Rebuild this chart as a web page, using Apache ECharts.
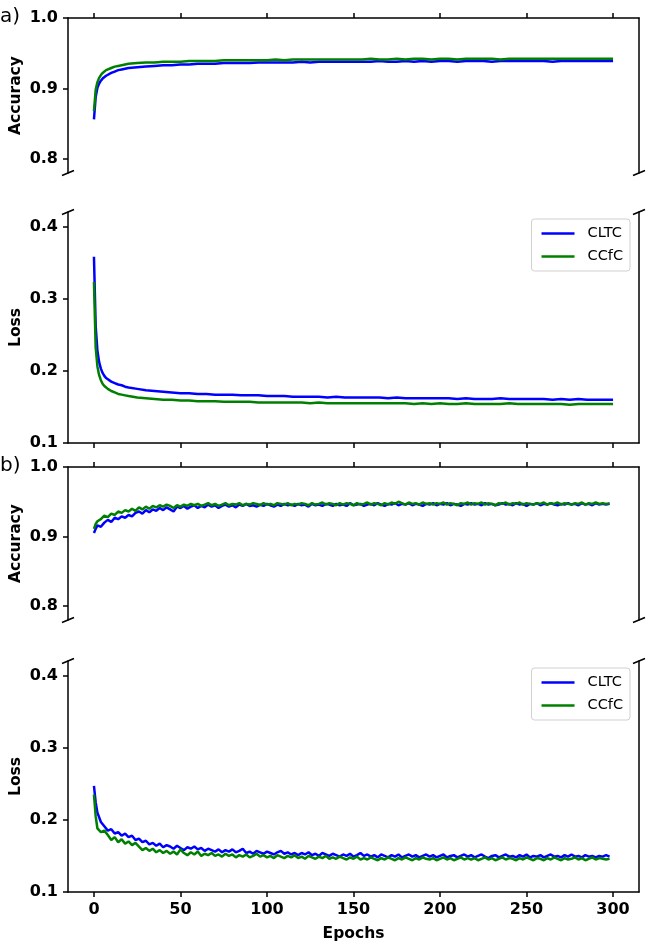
<!DOCTYPE html>
<html>
<head>
<meta charset="utf-8">
<script src="https://cdn.jsdelivr.net/npm/echarts@6/dist/echarts.min.js"></script>
<style>
html,body{margin:0;padding:0;background:#fff;}
#chart{width:646px;height:941px;}
</style>
</head>
<body>
<div id="chart"></div>
<script>
// ---------- DATA ----------
const seriesNames = ['CLTC', 'CCfC'];
const xTicks = [0, 50, 100, 150, 200, 250, 300];
const accTicks = [0.8, 0.9, 1.0];
const lossTicks = [0.1, 0.2, 0.3, 0.4];

// Panel a) epochs (denser at the start)
const epochsA = [0,1,2,3,4,5,6,7,8,10,12,14,16,18,20,25,30,35,40,45,
  50,55,60,65,70,75,80,85,90,95,100,105,110,115,120,125,130,135,140,145,
  150,155,160,165,170,175,180,185,190,195,200,205,210,215,220,225,230,235,240,245,
  250,255,260,265,270,275,280,285,290,295,300];

const accA_CLTC = [0.856,0.888,0.901,0.907,0.911,0.914,0.916,0.918,0.920,0.922,0.924,0.926,0.927,0.928,0.929,0.930,0.931,0.932,0.933,0.933,
  0.934,0.934,0.935,0.935,0.935,0.936,0.936,0.936,0.936,0.937,
  0.937,0.937,0.937,0.937,0.938,0.937,0.938,0.938,0.938,0.938,
  0.938,0.938,0.938,0.939,0.938,0.938,0.939,0.938,0.939,0.938,
  0.939,0.939,0.938,0.939,0.939,0.939,0.938,0.939,0.939,0.939,
  0.939,0.939,0.939,0.938,0.939,0.939,0.939,0.939,0.939,0.939,
  0.939];
const accA_CCfC = [0.868,0.898,0.909,0.915,0.919,0.922,0.924,0.926,0.927,0.929,0.931,0.932,0.933,0.934,0.935,0.936,0.937,0.937,0.938,0.938,
  0.938,0.939,0.939,0.939,0.939,0.940,0.940,0.940,0.940,0.940,
  0.940,0.941,0.940,0.941,0.941,0.941,0.941,0.941,0.941,0.941,
  0.941,0.941,0.942,0.941,0.941,0.942,0.941,0.942,0.942,0.941,
  0.942,0.942,0.941,0.942,0.942,0.942,0.942,0.941,0.942,0.942,
  0.942,0.942,0.942,0.942,0.942,0.942,0.942,0.942,0.942,0.942,
  0.942];
const lossA_CLTC = [0.358,0.262,0.228,0.212,0.203,0.197,0.193,0.190,0.188,0.185,0.183,0.181,0.180,0.178,0.177,0.175,0.173,0.172,0.171,0.170,
  0.169,0.169,0.168,0.168,0.167,0.167,0.167,0.166,0.166,0.166,
  0.165,0.165,0.165,0.164,0.164,0.164,0.164,0.163,0.164,0.163,
  0.163,0.163,0.163,0.163,0.162,0.163,0.162,0.162,0.162,0.162,
  0.162,0.162,0.161,0.162,0.161,0.161,0.161,0.162,0.161,0.161,
  0.161,0.161,0.161,0.160,0.161,0.160,0.161,0.160,0.160,0.160,
  0.160];
const lossA_CCfC = [0.323,0.232,0.206,0.194,0.187,0.182,0.179,0.177,0.175,0.172,0.170,0.168,0.167,0.166,0.165,0.163,0.162,0.161,0.160,0.160,
  0.159,0.159,0.158,0.158,0.158,0.157,0.157,0.157,0.157,0.156,
  0.156,0.156,0.156,0.156,0.156,0.155,0.156,0.155,0.155,0.155,
  0.155,0.155,0.155,0.155,0.155,0.155,0.155,0.154,0.155,0.154,
  0.155,0.154,0.154,0.155,0.154,0.154,0.154,0.154,0.155,0.154,
  0.154,0.154,0.154,0.154,0.154,0.153,0.154,0.154,0.154,0.154,
  0.154];

// Panel b) epochs
const epochsB = [0,1,2,4,6,8,10,12,14,16,
  18,20,22,24,26,28,30,32,34,36,
  38,40,42,44,46,48,50,52,54,56,
  58,60,62,64,66,68,70,72,74,76,
  78,80,82,84,86,88,90,92,94,96,
  98,100,102,104,106,108,110,112,114,116,
  118,120,122,124,126,128,130,132,134,136,
  138,140,142,144,146,148,150,152,154,156,
  158,160,162,164,166,168,170,172,174,176,
  178,180,182,184,186,188,190,192,194,196,
  198,200,202,204,206,208,210,212,214,216,
  218,220,222,224,226,228,230,232,234,236,
  238,240,242,244,246,248,250,252,254,256,
  258,260,262,264,266,268,270,272,274,276,
  278,280,282,284,286,288,290,292,294,296,
  298];

const accB_CLTC = [0.905,0.911,0.916,0.914,0.920,0.924,0.921,0.927,0.925,0.929,
  0.927,0.931,0.929,0.934,0.936,0.933,0.938,0.935,0.939,0.937,
  0.941,0.938,0.942,0.939,0.936,0.943,0.941,0.944,0.940,0.943,
  0.945,0.941,0.944,0.942,0.946,0.943,0.945,0.941,0.944,0.946,
  0.943,0.945,0.942,0.946,0.944,0.947,0.944,0.945,0.943,0.946,
  0.944,0.947,0.945,0.943,0.946,0.944,0.947,0.945,0.946,0.944,
  0.947,0.945,0.946,0.943,0.947,0.945,0.946,0.944,0.947,0.946,
  0.944,0.947,0.945,0.946,0.944,0.948,0.945,0.946,0.947,0.944,
  0.946,0.947,0.945,0.948,0.946,0.944,0.947,0.946,0.948,0.945,
  0.947,0.946,0.948,0.945,0.947,0.946,0.944,0.947,0.946,0.948,
  0.945,0.947,0.946,0.948,0.945,0.947,0.946,0.944,0.947,0.946,
  0.948,0.946,0.947,0.945,0.948,0.946,0.947,0.945,0.946,0.948,
  0.946,0.947,0.945,0.948,0.946,0.947,0.944,0.947,0.946,0.948,
  0.945,0.947,0.946,0.948,0.946,0.945,0.947,0.946,0.948,0.946,
  0.947,0.945,0.948,0.946,0.947,0.945,0.948,0.946,0.947,0.946,
  0.947];
const accB_CCfC = [0.911,0.918,0.922,0.925,0.930,0.928,0.933,0.931,0.936,0.934,
  0.938,0.936,0.940,0.937,0.942,0.939,0.943,0.940,0.944,0.942,
  0.945,0.943,0.946,0.944,0.941,0.945,0.943,0.946,0.944,0.947,
  0.945,0.947,0.944,0.946,0.948,0.945,0.947,0.944,0.946,0.948,
  0.945,0.947,0.946,0.948,0.945,0.947,0.946,0.948,0.947,0.945,
  0.948,0.946,0.947,0.945,0.948,0.947,0.946,0.948,0.945,0.947,
  0.946,0.948,0.947,0.945,0.948,0.946,0.947,0.949,0.946,0.948,
  0.947,0.945,0.948,0.946,0.948,0.947,0.945,0.948,0.946,0.947,
  0.949,0.946,0.948,0.947,0.945,0.948,0.946,0.949,0.947,0.950,
  0.948,0.946,0.949,0.947,0.948,0.946,0.949,0.947,0.948,0.946,
  0.948,0.947,0.949,0.946,0.948,0.947,0.945,0.948,0.947,0.949,
  0.946,0.948,0.947,0.949,0.946,0.948,0.947,0.945,0.948,0.947,
  0.949,0.946,0.948,0.947,0.949,0.946,0.948,0.947,0.946,0.948,
  0.947,0.949,0.946,0.948,0.947,0.949,0.946,0.948,0.947,0.946,
  0.948,0.947,0.949,0.946,0.948,0.947,0.949,0.947,0.948,0.947,
  0.948];
const lossB_CLTC = [0.247,0.224,0.210,0.197,0.191,0.185,0.187,0.181,0.183,0.178,
  0.181,0.176,0.178,0.172,0.174,0.169,0.171,0.166,0.168,0.164,
  0.167,0.162,0.165,0.163,0.160,0.164,0.161,0.158,0.162,0.160,
  0.163,0.159,0.161,0.157,0.160,0.158,0.156,0.159,0.155,0.158,
  0.156,0.159,0.155,0.157,0.160,0.154,0.156,0.153,0.157,0.155,
  0.153,0.156,0.154,0.152,0.155,0.157,0.153,0.155,0.152,0.154,
  0.151,0.154,0.152,0.155,0.151,0.153,0.150,0.154,0.152,0.150,
  0.153,0.151,0.149,0.152,0.150,0.153,0.149,0.151,0.154,0.150,
  0.152,0.149,0.151,0.148,0.152,0.150,0.148,0.151,0.149,0.152,
  0.148,0.150,0.152,0.149,0.151,0.148,0.150,0.152,0.149,0.151,
  0.148,0.150,0.152,0.148,0.150,0.151,0.148,0.150,0.152,0.149,
  0.151,0.148,0.150,0.152,0.149,0.147,0.150,0.151,0.148,0.150,
  0.152,0.149,0.150,0.148,0.151,0.149,0.152,0.148,0.150,0.149,
  0.151,0.148,0.150,0.152,0.149,0.150,0.148,0.151,0.149,0.152,
  0.149,0.150,0.148,0.151,0.149,0.150,0.148,0.150,0.149,0.151,
  0.149];
const lossB_CCfC = [0.235,0.205,0.188,0.183,0.185,0.179,0.172,0.176,0.169,0.173,
  0.167,0.170,0.165,0.168,0.163,0.158,0.161,0.157,0.160,0.155,
  0.158,0.154,0.157,0.153,0.156,0.152,0.159,0.154,0.151,0.155,
  0.152,0.156,0.150,0.153,0.151,0.154,0.150,0.152,0.149,0.153,
  0.150,0.152,0.148,0.151,0.149,0.152,0.148,0.150,0.153,0.149,
  0.151,0.148,0.150,0.147,0.151,0.149,0.147,0.150,0.148,0.151,
  0.147,0.149,0.146,0.150,0.148,0.146,0.149,0.147,0.150,0.146,
  0.148,0.146,0.149,0.147,0.145,0.148,0.146,0.149,0.145,0.147,
  0.145,0.148,0.146,0.144,0.147,0.145,0.148,0.146,0.144,0.147,
  0.145,0.148,0.146,0.144,0.147,0.145,0.148,0.146,0.145,0.147,
  0.144,0.146,0.148,0.145,0.147,0.144,0.146,0.148,0.145,0.147,
  0.145,0.147,0.144,0.146,0.148,0.145,0.147,0.144,0.146,0.148,
  0.145,0.147,0.146,0.144,0.147,0.145,0.148,0.146,0.144,0.147,
  0.146,0.144,0.147,0.145,0.148,0.146,0.144,0.147,0.145,0.146,
  0.148,0.145,0.147,0.144,0.146,0.148,0.145,0.147,0.146,0.145,
  0.146];

// ---------- CHART ----------
const FONT = 'DejaVu Sans';
const BLUE = '#0000ff', GREEN = '#008000';
const X_MIN = -15, X_MAX = 315;
const ACC_MIN = 0.78, ACC_MAX = 1.0;
const LOSS_MIN = 0.1, LOSS_MAX = 0.42;

const chart = echarts.init(document.getElementById('chart'), null, {renderer: 'canvas'});

const grids = [
  {left: 68, right: 7, top: 18, height: 155, outerBoundsMode: 'none', containLabel: false},
  {left: 68, right: 7, top: 212, height: 231, outerBoundsMode: 'none', containLabel: false},
  {left: 68, right: 7, top: 467, height: 153, outerBoundsMode: 'none', containLabel: false},
  {left: 68, right: 7, top: 661, height: 231, outerBoundsMode: 'none', containLabel: false}
];

const lineStyleAxis = {color: '#000', width: 1.5};
const tickFont = {fontFamily: FONT, fontWeight: 'bold', fontSize: 16, color: '#000'};
const nameFont = {fontFamily: FONT, fontWeight: 'bold', fontSize: 15.5, color: '#000'};

function xAxisFor(i) {
  const isAcc = (i % 2 === 0);
  const isLast = (i === 3);
  return {
    type: 'value', gridIndex: i, min: X_MIN, max: X_MAX,
    position: isAcc ? 'top' : 'bottom',
    axisLine: {show: true, onZero: false, lineStyle: lineStyleAxis},
    axisTick: {show: true, inside: false, length: 5, lineStyle: lineStyleAxis, customValues: xTicks},
    axisLabel: Object.assign({show: isLast, customValues: xTicks, margin: 10}, tickFont),
    splitLine: {show: false},
    name: isLast ? 'Epochs' : '', nameLocation: 'middle', nameGap: 34, nameMoveOverlap: false,
    nameTextStyle: nameFont
  };
}

function yAxesFor(i) {
  const isAcc = (i % 2 === 0);
  const mn = isAcc ? ACC_MIN : LOSS_MIN, mx = isAcc ? ACC_MAX : LOSS_MAX;
  const ticks = isAcc ? accTicks : lossTicks;
  return [{
    type: 'value', gridIndex: i, min: mn, max: mx, position: 'left',
    axisLine: {show: true, onZero: false, lineStyle: lineStyleAxis},
    axisTick: {show: true, inside: false, length: 5, lineStyle: lineStyleAxis, customValues: ticks},
    axisLabel: Object.assign({show: true, customValues: ticks, margin: 10,
      formatter: v => v.toFixed(1)}, tickFont),
    splitLine: {show: false},
    name: isAcc ? 'Accuracy' : 'Loss', nameLocation: 'middle', nameGap: 44, nameRotate: 90,
    nameMoveOverlap: false,
    nameTextStyle: nameFont
  }, {
    type: 'value', gridIndex: i, min: mn, max: mx, position: 'right',
    axisLine: {show: true, onZero: false, lineStyle: lineStyleAxis},
    axisTick: {show: false}, axisLabel: {show: false}, splitLine: {show: false}
  }];
}

const xAxes = [0,1,2,3].map(xAxisFor);
const yAxes = [];
[0,1,2,3].forEach(i => yAxes.push(...yAxesFor(i)));

function pairs(xs, ys) { return xs.map((x, k) => [x, ys[k]]); }

const panelData = [
  [epochsA, accA_CLTC, accA_CCfC],
  [epochsA, lossA_CLTC, lossA_CCfC],
  [epochsB, accB_CLTC, accB_CCfC],
  [epochsB, lossB_CLTC, lossB_CCfC]
];

const series = [];
panelData.forEach((p, i) => {
  [BLUE, GREEN].forEach((c, k) => {
    series.push({
      name: seriesNames[k], type: 'line', xAxisIndex: i, yAxisIndex: i * 2,
      data: pairs(p[0], p[k + 1]), showSymbol: false, symbol: 'none',
      lineStyle: {color: c, width: 2.5}, itemStyle: {color: c},
      animation: false, z: 2 + k
    });
  });
});

function legendAt(top) {
  return {
    data: seriesNames, orient: 'vertical', right: 16, top: top,
    icon: 'rect', itemWidth: 33, itemHeight: 2.5, itemGap: 8,
    padding: [7, 7, 7, 10],
    borderColor: '#d0d0d0', borderWidth: 1, borderRadius: 3, backgroundColor: '#fff',
    textStyle: {fontFamily: FONT, fontSize: 14.5, color: '#000', padding: [0, 0, 0, 8]},
    selectedMode: false
  };
}

chart.setOption({
  animation: false,
  backgroundColor: '#fff',
  grid: grids,
  xAxis: xAxes,
  yAxis: yAxes,
  legend: [legendAt(219), legendAt(668)],
  series: series
});

// break markers at the broken edges, positioned from the axes' own scales
const graphics = [];
function breakMark(gridIndex, xVal, yVal) {
  const p = chart.convertToPixel({gridIndex: gridIndex}, [xVal, yVal]);
  graphics.push({
    type: 'line', shape: {x1: p[0] - 6, y1: p[1] + 2.5, x2: p[0] + 6, y2: p[1] - 2.5},
    style: {stroke: '#000', lineWidth: 1.6}, z: 100
  });
}
[[0, ACC_MIN], [1, LOSS_MAX], [2, ACC_MIN], [3, LOSS_MAX]].forEach(([g, y]) => {
  breakMark(g, X_MIN, y);
  breakMark(g, X_MAX, y);
});
graphics.push({type: 'text', left: 0, top: 7,
  style: {text: 'a)', font: '20px "DejaVu Sans"', fill: '#000'}});
graphics.push({type: 'text', left: 0, top: 456,
  style: {text: 'b)', font: '20px "DejaVu Sans"', fill: '#000'}});
chart.setOption({graphic: graphics});
</script>
</body>
</html>
